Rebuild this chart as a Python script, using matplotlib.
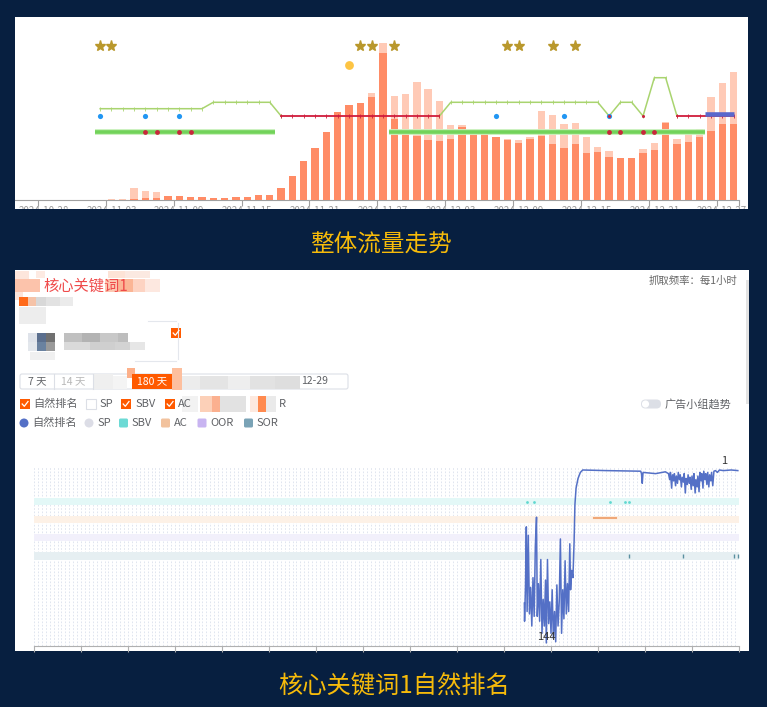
import matplotlib.pyplot as plt
import matplotlib.patches as mpatches
import numpy as np
import pandas as pd

plt.rcParams['font.family'] = ['Noto Sans CJK SC', 'DejaVu Sans']

W, H = 767, 707
NAVY = '#071f40'
GOLD = '#f7bb0a'
GRAY_TXT = '#606266'

# ---------------- 整体流量走势 数据 ----------------
start_day = pd.Timestamp('2024-10-28')
n_days = 62
days = pd.date_range(start_day, periods=n_days, freq='D')
cat = np.arange(n_days)

# 浅色柱（总流量）和深色柱（自然流量），单位任意
traffic_total = [0, 0, 0, 0, 0, 0, 1.0, 1.2, 12.3, 9.3, 8.3, 3.7, 3.7, 2.7, 2.7, 2.0,
                 2.3, 2.7, 3.3, 4.7, 5.3, 12, 24.5, 39, 52, 68, 88, 95, 97, 107,
                 157, 104, 105.7, 118, 111, 98.7, 75, 74.7, 69.7, 67, 63, 61, 59.7,
                 63, 89, 85, 75.7, 77, 63, 53, 49, 42, 42, 50.7, 57, 78, 61, 67, 71,
                 102.7, 117, 127.7]
traffic_organic = [0, 0, 0, 0, 0, 0, 0.3, 0.5, 1, 2, 2, 3.7, 3.7, 2.7, 2.7, 2.0,
                   2.3, 2.7, 3.3, 4.7, 5.3, 12, 24, 38.7, 51.7, 67.7, 88, 95, 97, 103,
                   147.3, 81.3, 66.3, 63.7, 60.3, 59.3, 61.3, 73, 69.7, 67, 63, 60, 57.3,
                   60.7, 64.3, 56.3, 52.3, 56.3, 47, 48.3, 43, 42, 42, 47, 49.7, 77, 56.3,
                   58, 63, 69, 75.7, 76.3]

# 事件标记所在的日期序号
star_days = [5, 6, 28, 29, 31, 41, 42, 45, 47]
circle_days = [27]
blue_dot_days = [5, 9, 12, 40, 46, 50]
red_dot_days = [9, 10, 12, 13, 50, 51, 53, 54]
green_bands = [(4.5, 20.5), (30.5, 58.5)]
blue_band = (58.5, 61)

# 状态折线（浅绿）与红色折线
LV_LOW, LV_MID, LV_HIGH, LV_TOP = 84, 91.3, 97.7, 122.3
green_line = [np.nan] * 5 + [LV_MID] * 10 + [LV_HIGH] * 6 + [LV_LOW] + [np.nan] * 13 + \
             [LV_LOW] + [LV_HIGH] * 14 + [LV_LOW] + [LV_HIGH] * 2 + [LV_LOW] + [LV_TOP] * 2 + \
             [LV_LOW] + [np.nan] * 5
red_line = [np.nan] * 21 + [LV_LOW] * 15 + [np.nan] * 20 + [LV_LOW] * 6
LV_STAR, LV_CIRCLE, LV_BAND, LV_BLUE = 154, 135, 67.7, 86

# ---------------- 核心关键词1自然排名 数据 ----------------
rank_pts = [
    (125.2, 111), (125.25, 126), (125.5, 96), (125.7, 48), (125.9, 118), (126.2, 55),
    (126.5, 120), (126.8, 98), (127.1, 130), (127.4, 90), (127.7, 122), (128.0, 64),
    (128.3, 40), (128.5, 122), (128.8, 95), (129.1, 126), (129.4, 75), (129.7, 136),
    (130.0, 108), (130.3, 130), (130.6, 92), (130.8, 144), (131.1, 75), (131.4, 128),
    (131.7, 110), (132.0, 136), (132.3, 100), (132.6, 140), (132.9, 118), (133.2, 143),
    (133.5, 96), (133.8, 130), (134.1, 110), (134.4, 58), (134.7, 136), (135.0, 100),
    (135.3, 124), (135.6, 76), (135.9, 120), (136.2, 95), (136.5, 118), (136.8, 62),
    (137.0, 100), (137.3, 84), (137.6, 90), (137.9, 60), (138.1, 30), (138.4, 16),
    (138.9, 8), (139.5, 3), (140.1, 1), (146.0, 1.5), (154.9, 2), (155.1, 4),
    (155.3, 12), (155.5, 3), (158.7, 4), (161.2, 2.5), (162.0, 4), (162.3, 9),
    (162.5, 3), (162.8, 16), (163.0, 5), (163.3, 10), (163.5, 4), (163.8, 14),
    (164.0, 6), (164.3, 12), (164.5, 3), (164.8, 9), (165.0, 5), (165.3, 15),
    (165.5, 7), (165.8, 11), (166.0, 4), (166.3, 20), (166.5, 8), (166.8, 13),
    (167.0, 5), (167.3, 12), (167.5, 7), (167.8, 17), (168.0, 6), (168.3, 14),
    (168.5, 4), (168.8, 20), (169.0, 9), (169.3, 15), (169.5, 6), (169.8, 19),
    (170.0, 3), (170.3, 10), (170.5, 4), (170.8, 16), (171.0, 2), (171.3, 9),
    (171.5, 4), (171.8, 13), (172.0, 3), (172.3, 15), (172.5, 5), (172.8, 10),
    (173.0, 3), (173.3, 14), (173.6, 2), (174.0, 1.5), (174.5, 3), (175.0, 1),
    (176.0, 1.5), (178.0, 1), (179.7, 1.5)]
rank_day = [p[0] for p in rank_pts]
rank_val = [p[1] for p in rank_pts]
sbv_day = [125.9, 127.6, 147.1, 150.9, 151.9]
ac_day = [143.0, 148.5]
sor_day = [151.9, 165.7, 178.7, 179.7]
lane_rank = {'SBV': 27.4, 'AC': 42.3, 'OOR': 57.2, 'SOR': 72.1}
lane_color = {'SBV': '#e3f8f7', 'AC': '#fdf1e6', 'OOR': '#f2f0fb', 'SOR': '#e6eff2'}

legend_items = [('自然排名', '#5470c6', 'o'), ('SP', '#dcdde6', 'o'), ('SBV', '#6cdad5', 's'),
                ('AC', '#f2c29d', 's'), ('OOR', '#c8b4f1', 's'), ('SOR', '#7aa3b6', 's')]


def box(x0, y0, x1, y1):
    # 像素框（左上为原点）转为 figure 坐标
    return [x0 / W, 1 - y1 / H, (x1 - x0) / W, (y1 - y0) / H]


fig = plt.figure(figsize=(W / 100, H / 100), dpi=100)
fig.patch.set_facecolor(NAVY)

# 背景层，用像素坐标画界面元素
bg = fig.add_axes([0, 0, 1, 1])
bg.set_xlim(0, W)
bg.set_ylim(H, 0)
bg.axis('off')


def rect(x0, y0, x1, y1, color, **kw):
    bg.add_patch(mpatches.Rectangle((x0, y0), x1 - x0, y1 - y0, facecolor=color,
                                    edgecolor=kw.pop('ec', 'none'), **kw))


def checkbox(x, y, on=True):
    if on:
        rect(x, y - 5, x + 10, y + 5, '#ff5a00')
        bg.plot([x + 2.2, x + 4.3, x + 8], [y, y + 2.3, y - 2.5], color='white', lw=0.9)
    else:
        rect(x, y - 5, x + 10, y + 5, 'white', ec='#dcdfe6', lw=0.8)


# 底部面板
rect(15, 270, 749, 651, 'white')

# 标题区马赛克
for x0, y0, x1, y1, c in [(15, 271, 29, 280, '#fde6dc'), (36, 271, 45, 278, '#fdeae2'),
                          (108, 271, 125, 278, '#fde3d6'), (125, 271, 150, 278, '#fbe9e1'),
                          (15, 279, 40, 292, '#fcc3ab'), (15, 292, 23, 300, '#fde4da'),
                          (105, 279, 118, 292, '#fcc7b1'), (118, 279, 133, 292, '#fbb595'),
                          (133, 279, 145, 292, '#fdd3c2'), (145, 279, 160, 292, '#fde8e0'),
                          (19, 297, 28, 306, '#ff6a1a'), (28, 297, 36, 306, '#f5c3a8'),
                          (36, 297, 46, 306, '#d8d8d8'), (46, 297, 60, 306, '#e2e2e2'),
                          (60, 297, 73, 306, '#ebebeb'), (19, 307, 46, 324, '#ededed'),
                          (28, 333, 37, 342, '#dfe3ea'), (28, 342, 37, 351, '#e3e7ec'),
                          (37, 333, 46, 342, '#5b6f8e'), (37, 342, 46, 351, '#6a82a0'),
                          (46, 333, 55, 342, '#707070'), (46, 342, 55, 351, '#9a9a9a'),
                          (64, 333, 82, 342, '#c0c0c0'), (82, 333, 100, 342, '#b3b3b3'),
                          (100, 333, 118, 342, '#c8c8c8'), (118, 333, 128, 342, '#bdbdbd'),
                          (64, 342, 90, 350, '#dadada'), (90, 342, 115, 350, '#cfcfcf'),
                          (115, 342, 130, 350, '#d3d3d3'), (130, 342, 145, 350, '#e6e6e6'),
                          (30, 352, 55, 360, '#f0f0f0')]:
    rect(x0, y0, x1, y1, c)
bg.text(44, 286, '核心关键词1', color='#ef4b4b', fontsize=11, va='center', ha='left')
bg.text(737, 281, '抓取频率：每1小时', color='#666666', fontsize=7.5, va='center', ha='right')

# 商品卡片边框
bg.plot([148, 176], [321, 321], color='#e4e7ed', lw=0.8)
bg.plot([178, 178], [323, 359], color='#e4e7ed', lw=0.8)
bg.plot([135, 176], [361, 361], color='#e4e7ed', lw=0.8)
checkbox(171, 333)

# 时间范围按钮
bg.add_patch(mpatches.FancyBboxPatch((20, 374), 328, 15, boxstyle='round,pad=0,rounding_size=2',
                                     facecolor='white', edgecolor='#dcdfe6', lw=0.8))
for xd in [54, 93]:
    bg.plot([xd, xd], [374, 389], color='#dcdfe6', lw=0.8)
bg.text(37, 381.5, '7 天', color=GRAY_TXT, fontsize=7.5, ha='center', va='center')
bg.text(73, 381.5, '14 天', color='#9a9a9a', fontsize=7.5, ha='center', va='center', alpha=0.7)
for x0, y0, x1, y1, c in [(93, 374, 113, 389, '#efefef'), (113, 376, 127, 389, '#f4f4f4'),
                          (127, 368, 135, 378, '#fcb08a'), (172, 368, 182, 390, '#fdbf9e'),
                          (182, 376, 200, 389, '#ececec'), (200, 376, 228, 389, '#e4e4e4'),
                          (228, 376, 250, 389, '#eeeeee'), (250, 376, 275, 389, '#e2e2e2'),
                          (275, 376, 300, 389, '#dedede')]:
    rect(x0, y0, x1, y1, c)
rect(132, 374, 172, 389, '#ff5a00')
bg.text(152, 381.5, '180 天', color='white', fontsize=7.5, ha='center', va='center')
bg.text(315, 381.5, '12-29', color=GRAY_TXT, fontsize=7.5, ha='center', va='center')

# 勾选行
checkbox(20, 404)
bg.text(33, 404, '自然排名', color=GRAY_TXT, fontsize=8, va='center')
checkbox(86, 404, on=False)
bg.text(99, 404, 'SP', color=GRAY_TXT, fontsize=8, va='center')
checkbox(121, 404)
bg.text(135, 404, 'SBV', color=GRAY_TXT, fontsize=8, va='center')
checkbox(165, 404)
bg.text(178, 404, 'AC', color=GRAY_TXT, fontsize=8, va='center')
for x0, y0, x1, y1, c in [(182, 396, 198, 412, '#f2f2f2'), (200, 396, 212, 412, '#fcd0b8'),
                          (212, 396, 220, 412, '#fbb08f'), (220, 396, 246, 412, '#e2e2e2'),
                          (250, 396, 258, 412, '#fde9df'), (258, 396, 266, 412, '#ff8a4f'),
                          (266, 396, 276, 412, '#eaeaea')]:
    rect(x0, y0, x1, y1, c)
bg.text(279, 404, 'R', color=GRAY_TXT, fontsize=8, va='center')

# 开关
bg.add_patch(mpatches.FancyBboxPatch((641, 399.5), 20, 9, boxstyle='round,pad=0,rounding_size=4.5',
                                     facecolor='#dcdfe6', edgecolor='none'))
bg.add_patch(mpatches.Circle((645.5, 404), 3.6, facecolor='white', edgecolor='none'))
bg.text(665, 404, '广告小组趋势', color=GRAY_TXT, fontsize=8, va='center')
rect(746, 280, 749, 404, '#e3e3e3')

# 图例行
lx = [24, 89, 123.5, 165.5, 202, 248.5]
for (name, c, m), x in zip(legend_items, lx):
    if m == 'o':
        bg.add_patch(mpatches.Circle((x, 423), 4.5, facecolor=c, edgecolor='none'))
    else:
        bg.add_patch(mpatches.FancyBboxPatch((x - 4.5, 418.5), 9, 9,
                                             boxstyle='round,pad=0,rounding_size=1.5',
                                             facecolor=c, edgecolor='none'))
    bg.text(x + 8, 423, name, color=GRAY_TXT, fontsize=8, va='center')

# 标题文字
bg.text(380.5, 245, '整体流量走势', color=GOLD, fontsize=17, ha='center', va='center')
bg.text(394.5, 687, '核心关键词1自然排名', color=GOLD, fontsize=17.5, ha='center', va='center')

# ---------------- 上图：整体流量走势 ----------------
ax1 = fig.add_axes(box(15, 17, 748, 208.7))
ax1.set_facecolor('white')
ax1.set_xlim(-2.53, 62.28)
ax1.set_ylim(-8.7, 183)
for s in ['top', 'right', 'left']:
    ax1.spines[s].set_visible(False)
ax1.spines['bottom'].set_position(('data', 0))
ax1.spines['bottom'].set_color('#a0a0a0')
ax1.spines['bottom'].set_bounds(-2.53, 61.5)
ax1.set_yticks([])
ax1.set_xticks(list(np.arange(-0.5, 61, 6)) + [61.5])
ax1.tick_params(axis='x', length=4, color='#a0a0a0', labelbottom=False)

ax1.bar(cat, traffic_total, width=0.65, color='#ffcab6', zorder=2)
ax1.bar(cat, traffic_organic, width=0.65, color='#ff8c66', zorder=3)

for a, b in green_bands:
    ax1.plot([a, b], [LV_BAND, LV_BAND], color='#c8f0bb', lw=4.2, zorder=4, solid_capstyle='butt')
    ax1.plot([a, b], [LV_BAND, LV_BAND], color='#72d35a', lw=2.6, zorder=4, solid_capstyle='butt')
ax1.plot(cat, green_line, color='#a9d46f', lw=1.1, marker='|', ms=2.5, mew=0.6, zorder=5)
ax1.plot(cat, red_line, color='#d01c3c', lw=1.3, marker='|', ms=2.5, mew=0.6, zorder=6)
gl = np.array(green_line)
low_idx = [i for i in range(n_days) if gl[i] == LV_LOW and np.isnan(red_line[i])]
ax1.plot(blue_band, [LV_BLUE, LV_BLUE], color='#5a68cc', lw=3.3, zorder=7, solid_capstyle='butt')
ax1.scatter(blue_dot_days, [LV_LOW] * len(blue_dot_days), s=14, color='#2196f3', zorder=8, lw=0)
ax1.scatter(low_idx, [LV_LOW] * len(low_idx), s=5, color='#c8283c', zorder=9, lw=0)
ax1.scatter(red_dot_days, [LV_BAND] * len(red_dot_days), s=12, color='#c8283c', zorder=9, lw=0)
ax1.plot(star_days, [LV_STAR] * len(star_days), ls='none', marker='*', ms=8, color='#b9982c', zorder=8)
ax1.scatter(circle_days, [LV_CIRCLE], s=40, color='#fdc443', zorder=8, lw=0)
for i in range(0, n_days, 6):
    ax1.text(i, -5.5, days[i].strftime('%Y-%m-%d'), fontsize=7, color='#999999',
             ha='center', va='top', clip_on=True)

# ---------------- 下图：核心关键词1自然排名 ----------------
ax2 = fig.add_axes(box(34, 466, 739, 646))
ax2.set_facecolor('none')
ax2.set_xlim(0, 180)
ax2.set_ylim(146.5, -2.3)
for s in ['top', 'right', 'left']:
    ax2.spines[s].set_visible(False)
ax2.spines['bottom'].set_color('#b0b0b0')
ax2.set_yticks([])
ax2.set_xticks(np.arange(0, 181, 12))
ax2.tick_params(axis='x', length=4, color='#b0b0b0', labelbottom=False)
for d in range(0, 181):
    ax2.axvline(d, color='#dbe1ec', lw=0.6, ls=(0, (2, 2)), zorder=0)
for k, r in lane_rank.items():
    ax2.axhspan(r - 2.9, r + 2.9, color=lane_color[k], lw=0, zorder=1)

ax2.plot(rank_day, rank_val, color='#5470c6', lw=1.1, zorder=5)
ax2.scatter(sbv_day, [lane_rank['SBV']] * len(sbv_day), s=4, color='#5fd8d0', zorder=4, lw=0)
ax2.plot(ac_day, [lane_rank['AC'] - 1.4] * 2, color='#f0a878', lw=1.5, zorder=4)
ax2.plot(sor_day, [lane_rank['SOR']] * len(sor_day), ls='none', marker='|', ms=3,
         color='#5a8fa0', zorder=4)

i_worst = int(np.argmax(rank_val))
best = min(rank_val)
ax2.annotate(f'{best:g}', xy=(176.3, best), xytext=(0, 3), zorder=10,
             textcoords='offset points', ha='center', va='bottom', fontsize=8, color='#333333')
ax2.annotate(f'{rank_val[i_worst]:g}', xy=(rank_day[i_worst], rank_val[i_worst]), xytext=(0, 1),
             zorder=10, textcoords='offset points', ha='center', va='bottom', fontsize=8,
             color='#333333')

fig.savefig('out.png', dpi=100, facecolor=NAVY)
